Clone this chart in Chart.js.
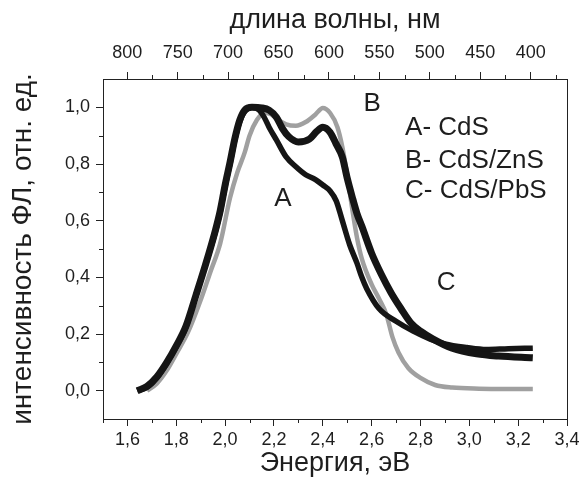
<!DOCTYPE html>
<html><head><meta charset="utf-8">
<script src="https://cdn.jsdelivr.net/npm/chart.js@4/dist/chart.umd.min.js"></script>
<style>html,body{margin:0;padding:0;background:#fff}canvas{display:block}</style>
</head><body>
<canvas id="c" width="579" height="492"></canvas>
<script>
// ---- data ----
const energyTicks = [1.6, 1.8, 2.0, 2.2, 2.4, 2.6, 2.8, 3.0, 3.2, 3.4];
const energyMinor = [1.5, 1.7, 1.9, 2.1, 2.3, 2.5, 2.7, 2.9, 3.1, 3.3];
const wavelengthTicks = [800, 750, 700, 650, 600, 550, 500, 450, 400];
const wavelengthMinor = [775, 725, 675, 625, 575, 525, 475, 425, 375];
const intensityTicks = [0.0, 0.2, 0.4, 0.6, 0.8, 1.0];
const intensityMinor = [0.1, 0.3, 0.5, 0.7, 0.9];
const seriesNames = ['A- CdS', 'B- CdS/ZnS', 'C- CdS/PbS'];
const curveLetters = ['A', 'B', 'C'];

// A - CdS (black, shoulder)
const seriesA_E = [1.64,1.68,1.72,1.76,1.80,1.84,1.88,1.92,1.96,1.98,2.00,2.02,2.04,2.06,2.08,2.11,2.14,2.16,2.18,2.21,2.25,2.29,2.33,2.37,2.40,2.43,2.455,2.48,2.51,2.54,2.56,2.58,2.63,2.70,2.77,2.84,2.90,2.99,3.07,3.16,3.26];
const seriesA_I = [0.0,0.012,0.045,0.095,0.155,0.225,0.335,0.445,0.56,0.63,0.72,0.80,0.885,0.95,0.985,1.0,0.99,0.965,0.93,0.885,0.825,0.79,0.762,0.745,0.726,0.705,0.67,0.60,0.515,0.45,0.40,0.36,0.29,0.245,0.21,0.182,0.165,0.152,0.145,0.148,0.15];

// B - CdS/ZnS (grey)
const seriesB_E = [1.68,1.72,1.76,1.80,1.85,1.90,1.94,1.98,2.02,2.05,2.08,2.10,2.13,2.16,2.19,2.21,2.25,2.29,2.33,2.37,2.40,2.43,2.46,2.48,2.50,2.52,2.54,2.56,2.60,2.63,2.66,2.685,2.71,2.75,2.80,2.86,2.93,3.04,3.15,3.26];
const seriesB_I = [0.0,0.025,0.07,0.13,0.21,0.32,0.42,0.52,0.68,0.77,0.84,0.90,0.955,0.98,0.975,0.96,0.94,0.935,0.948,0.975,0.998,0.98,0.93,0.86,0.76,0.645,0.54,0.465,0.375,0.325,0.27,0.19,0.135,0.08,0.045,0.02,0.011,0.007,0.006,0.006];

// C - CdS/PbS (black, two peaks)
const seriesC_E = [1.64,1.68,1.72,1.76,1.80,1.84,1.88,1.92,1.96,1.98,2.00,2.02,2.04,2.06,2.08,2.11,2.15,2.18,2.21,2.235,2.26,2.30,2.345,2.375,2.40,2.43,2.455,2.48,2.50,2.52,2.54,2.56,2.60,2.64,2.68,2.72,2.76,2.80,2.85,2.93,3.03,3.12,3.26];
const seriesC_I = [0.0,0.015,0.048,0.098,0.158,0.228,0.335,0.445,0.565,0.635,0.725,0.805,0.89,0.955,0.99,1.0,0.998,0.99,0.965,0.925,0.897,0.878,0.888,0.915,0.93,0.912,0.87,0.825,0.75,0.685,0.625,0.58,0.485,0.41,0.345,0.29,0.24,0.21,0.183,0.15,0.13,0.122,0.116];

// ---- helpers ----
const FONT = "'Liberation Sans', Arial, sans-serif";
const TXT = '#1e1e1e';
const comma = v => v.toFixed(1).replace('.', ',');
const pts = (xs, ys) => xs.map((x, i) => ({x, y: ys[i]}));
const setTicks = arr => s => { s.ticks = arr.map(v => ({value: v})); };

const annotations = {
  letters: [{e: 2.237, i: 0.677}, {e: 2.602, i: 1.012}, {e: 2.905, i: 0.38}],
  legend: {e: 2.737, i: [0.927, 0.811, 0.705]}
};

const extras = {
  id: 'extras',
  afterDraw(chart) {
    const ctx = chart.ctx;
    const a = chart.chartArea;
    const sx = chart.scales.x, sx2 = chart.scales.x2, sy = chart.scales.y;
    ctx.save();
    ctx.strokeStyle = '#222';
    ctx.lineWidth = 1;
    ctx.beginPath();
    ctx.moveTo(Math.round(a.right) + 0.5, a.top);
    ctx.lineTo(Math.round(a.right) + 0.5, a.bottom);
    energyMinor.forEach(v => {
      const p = Math.round(sx.getPixelForValue(v)) + 0.5;
      ctx.moveTo(p, a.bottom); ctx.lineTo(p, a.bottom + 4);
    });
    wavelengthMinor.forEach(v => {
      const p = Math.round(sx2.getPixelForValue(v)) + 0.5;
      if (p > a.left && p < a.right) { ctx.moveTo(p, a.top); ctx.lineTo(p, a.top - 4); }
    });
    intensityMinor.forEach(v => {
      const p = Math.round(sy.getPixelForValue(v)) + 0.5;
      ctx.moveTo(a.left, p); ctx.lineTo(a.left - 4, p);
    });
    ctx.stroke();
    ctx.fillStyle = TXT;
    ctx.font = '26px ' + FONT;
    ctx.textBaseline = 'middle';
    ctx.textAlign = 'center';
    annotations.letters.forEach((p, k) => {
      ctx.fillText(curveLetters[k], sx.getPixelForValue(p.e), sy.getPixelForValue(p.i));
    });
    ctx.textAlign = 'left';
    seriesNames.forEach((n, k) => {
      ctx.fillText(n, sx.getPixelForValue(annotations.legend.e), sy.getPixelForValue(annotations.legend.i[k]));
    });
    ctx.restore();
  }
};

const gridOpts = {drawOnChartArea: false, drawTicks: true, tickLength: 7, tickColor: '#222', tickWidth: 1};
const borderOpts = {display: true, color: '#222', width: 1};

new Chart(document.getElementById('c'), {
  type: 'scatter',
  data: {
    datasets: [
      {label: seriesNames[1], data: pts(seriesB_E, seriesB_I), showLine: true, borderColor: '#a0a0a0', borderWidth: 4.5, pointRadius: 0, cubicInterpolationMode: 'monotone', order: 3},
      {label: seriesNames[0], data: pts(seriesA_E, seriesA_I), showLine: true, borderColor: '#151515', borderWidth: 5.5, pointRadius: 0, cubicInterpolationMode: 'monotone', order: 2},
      {label: seriesNames[2], data: pts(seriesC_E, seriesC_I), showLine: true, borderColor: '#151515', borderWidth: 7, pointRadius: 0, cubicInterpolationMode: 'monotone', order: 1}
    ]
  },
  options: {
    responsive: false,
    animation: false,
    devicePixelRatio: 1,
    layout: {padding: {left: 0, right: 12, top: 0, bottom: 0}},
    plugins: {legend: {display: false}, tooltip: {enabled: false}},
    scales: {
      x: {
        type: 'linear', position: 'bottom', min: 1.5, max: 3.4,
        afterBuildTicks: setTicks(energyTicks),
        afterFit: s => { s.height = 73; s.paddingLeft = 0; s.paddingRight = 0; },
        grid: gridOpts, border: borderOpts,
        ticks: {autoSkip: false, maxRotation: 0, padding: 3, color: TXT, font: {family: FONT, size: 18}, callback: v => comma(v)},
        title: {display: true, text: 'Энергия, эВ', color: TXT, font: {family: FONT, size: 27}, padding: {top: 0, bottom: 12}}
      },
      x2: {
        type: 'linear', position: 'top', min: 364, max: 824, reverse: true,
        afterBuildTicks: setTicks(wavelengthTicks),
        afterFit: s => { s.height = 79; s.paddingLeft = 0; s.paddingRight = 0; },
        grid: gridOpts, border: borderOpts,
        ticks: {autoSkip: false, maxRotation: 0, padding: 8, color: TXT, font: {family: FONT, size: 18}, callback: v => String(v)},
        title: {display: true, text: 'длина волны, нм', color: TXT, font: {family: FONT, size: 27}, padding: {top: 4, bottom: 0}}
      },
      y: {
        type: 'linear', position: 'left', min: -0.1, max: 1.1,
        afterBuildTicks: setTicks(intensityTicks),
        afterFit: s => { s.width = 103; s.paddingTop = 0; s.paddingBottom = 0; },
        grid: gridOpts, border: borderOpts,
        ticks: {autoSkip: false, padding: 6, color: TXT, font: {family: FONT, size: 18}, callback: v => comma(v)},
        title: {display: true, text: 'интенсивность ФЛ, отн. ед.', color: TXT, font: {family: FONT, size: 28}, padding: {top: 6, bottom: 0}}
      }
    }
  },
  plugins: [extras]
});
</script>
</body></html>
